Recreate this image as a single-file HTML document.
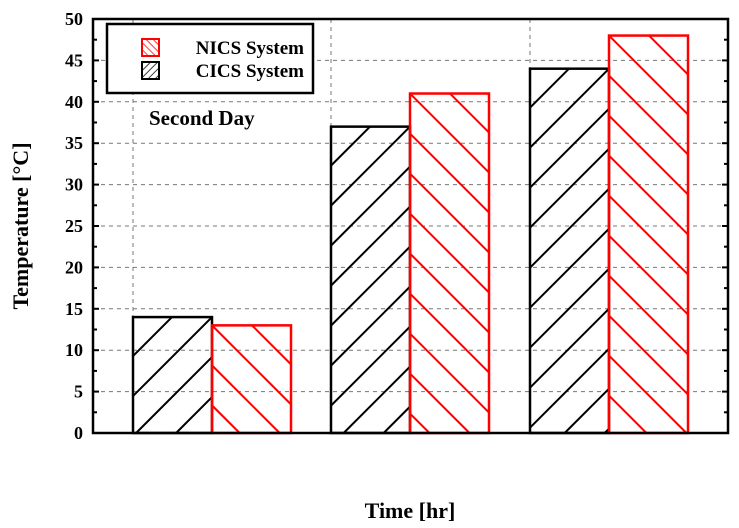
<!DOCTYPE html>
<html><head><meta charset="utf-8"><style>
html,body{margin:0;background:#fff;overflow:hidden;width:739px;height:528px;}
svg{display:block;}
text{font-family:"Liberation Serif",serif;font-weight:bold;}
</style></head><body>
<svg id="chart" width="739" height="528" xmlns="http://www.w3.org/2000/svg">
<defs id="defs">
<pattern id="hatchBs" patternUnits="userSpaceOnUse" width="5" height="5" patternTransform="rotate(45)"><line x1="0" y1="0" x2="0" y2="5" stroke="#000" stroke-width="1.5"/></pattern>
<pattern id="hatchRs" patternUnits="userSpaceOnUse" width="5" height="5" patternTransform="rotate(-45)"><line x1="0" y1="0" x2="0" y2="5" stroke="#f00" stroke-width="1.5"/></pattern>
</defs>
<g id="grid"></g>
<g id="bars"></g>
<rect x="93" y="19" width="635" height="414" fill="none" stroke="#000" stroke-width="2.5"/>
<g id="yaxis"></g>
<text x="410" y="518" font-size="22" text-anchor="middle">Time [hr]</text>
<text transform="translate(28,226) rotate(-90)" font-size="22" text-anchor="middle">Temperature [°C]</text>
<g>
<rect x="107" y="24" width="206" height="69" fill="#fff" stroke="#000" stroke-width="2.5"/>
<rect x="142" y="39" width="17" height="17" fill="url(#hatchRs)" stroke="#f00" stroke-width="2"/>
<text x="304" y="54" font-size="19" text-anchor="end">NICS System</text>
<rect x="142" y="62" width="17" height="17" fill="url(#hatchBs)" stroke="#000" stroke-width="2"/>
<text x="304" y="77" font-size="19" text-anchor="end">CICS System</text>
</g>
<text x="149" y="125" font-size="21">Second Day</text>
</svg>
<script>
const categories = ["1", "2", "3"];
const cicsValues = [14, 37, 44];
const nicsValues = [13, 41, 48];
const yTicks = [0, 5, 10, 15, 20, 25, 30, 35, 40, 45, 50];
const NS = "http://www.w3.org/2000/svg";
const L = 93, R = 728, T = 19, B = 433;
function y(v){ return B - (v/50)*(B-T); }
const groupLeft = [133, 331, 530];
const bw = 79, SP = 40;
function mk(tag, attrs, parent){ const e=document.createElementNS(NS,tag); for(const k in attrs) e.setAttribute(k,attrs[k]); parent.appendChild(e); return e; }
const grid = document.getElementById('grid'), bars = document.getElementById('bars'), yaxis = document.getElementById('yaxis');
yTicks.forEach(v=>{
  if(v>0 && v<50){
    const g = mk('line',{x1:L,x2:R,y1:y(v),y2:y(v),stroke:'#777','stroke-dasharray':'4 4','stroke-width':1},grid);
    
    
  }
  [[L,L+6],[R-6,R]].forEach(p=>mk('line',{x1:p[0],x2:p[1],y1:y(v),y2:y(v),stroke:'#000','stroke-width':2},yaxis));
  const m=v+2.5; if(m<50){ [[L,L+4],[R-4,R]].forEach(p=>mk('line',{x1:p[0],x2:p[1],y1:y(m),y2:y(m),stroke:'#000','stroke-width':2},yaxis)); }
  const t = mk('text',{x:83,y:y(v)+6,'font-size':18,'text-anchor':'end'},yaxis);
  t.textContent = v;
  
  
});
groupLeft.forEach(x=>{
  const g = mk('line',{x1:x,x2:x,y1:T,y2:B,stroke:'#777','stroke-dasharray':'4 4','stroke-width':1},grid);
  
  
});
function hatchBar(x0, v, color, dir, name){
  const top = y(v), h = B - top;
  const g = mk('g',{},bars);
  for(let k=-3; k*SP < h; k++){
    const yy = top + k*SP;
    let ya, yb;
    if(dir===1){
      const c = x0 + bw + yy; // x + y = c
      ya = Math.max(top, c-(x0+bw)); yb = Math.min(B, c-x0);
      if(yb-ya>0.5) mk('line',{x1:c-ya, y1:ya, x2:c-yb, y2:yb, stroke:color,'stroke-width':2},g);
    } else {
      const d = yy - x0; // y - x = d
      ya = Math.max(top, x0+d); yb = Math.min(B, x0+bw+d);
      if(yb-ya>0.5) mk('line',{x1:ya-d, y1:ya, x2:yb-d, y2:yb, stroke:color,'stroke-width':2},g);
    }
  }
  const r = mk('rect',{x:x0,y:top,width:bw,height:h,fill:'none',stroke:color,'stroke-width':2.5},bars);
  
  
}
categories.forEach((c,i)=>{
  const x0 = groupLeft[i];
  hatchBar(x0, cicsValues[i], '#000', 1, 'bar-cics-'+c);
  hatchBar(x0+bw, nicsValues[i], '#f00', -1, 'bar-nics-'+c);
});
</script>
</body></html>
